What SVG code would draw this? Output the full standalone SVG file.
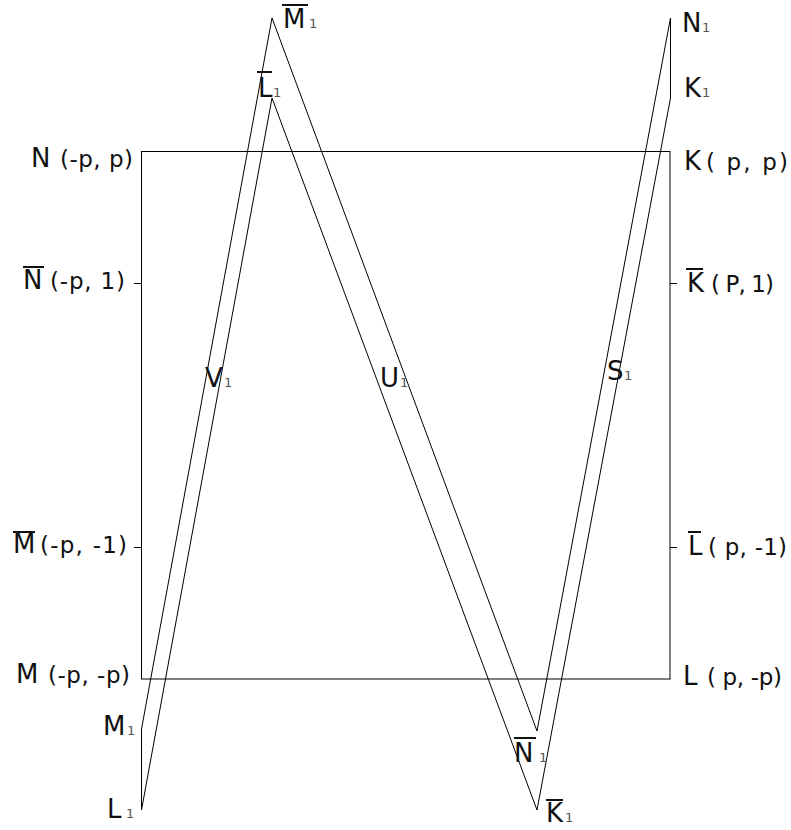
<svg xmlns="http://www.w3.org/2000/svg" width="791" height="830" viewBox="0 0 791 830">
<style>
text{font-family:"DejaVu Sans","Liberation Sans",sans-serif;fill:#111}
.b{font-size:26px}
.s{font-size:23px}
.sub{font-size:13px;fill:#555}
.ln{stroke:#000;stroke-width:1;fill:none}
.ov{stroke:#111;stroke-width:2}
</style>
<rect width="791" height="830" fill="#fff"/>
<g id="connectors">
<rect class="ln" x="141.5" y="151.5" width="528.5" height="527.5"/>
<line class="ln" x1="134" y1="283.5" x2="141.5" y2="283.5"/>
<line class="ln" x1="134" y1="547.5" x2="141.5" y2="547.5"/>
<line class="ln" x1="670" y1="283.5" x2="677" y2="283.5"/>
<line class="ln" x1="670" y1="547.5" x2="677" y2="547.5"/>
<polygon class="ln" points="141.5,729 272,18 537,731 670.5,18 670.5,98 537,810 272,98 141.5,810"/>
</g>
<g id="node-Mbar1"><line class="ov" x1="282" y1="5" x2="308" y2="5"/><text class="b" x="283" y="28">M</text><text class="sub" x="309" y="28">1</text></g>
<g id="node-Lbar1"><line class="ov" x1="257" y1="72" x2="272" y2="72"/><text class="b" x="258" y="97">L</text><text class="sub" x="273" y="97">1</text></g>
<g id="node-N1"><text class="b" x="682" y="32">N</text><text class="sub" x="702" y="32">1</text></g>
<g id="node-K1"><text class="b" x="684" y="97">K</text><text class="sub" x="702" y="97">1</text></g>
<g id="node-K"><text class="b" x="684" y="170">K</text><text class="s" x="706" y="170" textLength="82" lengthAdjust="spacing">( p, p)</text></g>
<g id="node-N"><text class="b" x="31" y="167">N</text><text class="s" x="60" y="167" textLength="73" lengthAdjust="spacing">(-p, p)</text></g>
<g id="node-Nbar"><line class="ov" x1="23" y1="267" x2="44" y2="267"/><text class="b" x="23" y="289">N</text><text class="s" x="50" y="289" textLength="75" lengthAdjust="spacing">(-p, 1)</text></g>
<g id="node-Kbar"><line class="ov" x1="686" y1="269" x2="703" y2="269"/><text class="b" x="687" y="292">K</text><text class="s" x="711" y="292" textLength="63" lengthAdjust="spacing">( P, 1)</text></g>
<g id="node-V1"><text class="b" x="205" y="387">V</text><text class="sub" x="224" y="387">1</text></g>
<g id="node-U1"><text class="b" x="380" y="387">U</text><text class="sub" x="400" y="387">1</text></g>
<g id="node-S1"><text class="b" x="607" y="380">S</text><text class="sub" x="624" y="380">1</text></g>
<g id="node-Mbar"><line class="ov" x1="13" y1="532" x2="35" y2="532"/><text class="b" x="13" y="553">M</text><text class="s" x="40" y="553" textLength="87" lengthAdjust="spacing">(-p, -1)</text></g>
<g id="node-Lbar"><line class="ov" x1="688" y1="532" x2="701" y2="532"/><text class="b" x="688" y="555">L</text><text class="s" x="708" y="555" textLength="79" lengthAdjust="spacing">( p, -1)</text></g>
<g id="node-M"><text class="b" x="16" y="683">M</text><text class="s" x="48" y="683" textLength="82" lengthAdjust="spacing">(-p, -p)</text></g>
<g id="node-L"><text class="b" x="683" y="685">L</text><text class="s" x="707" y="685" textLength="75" lengthAdjust="spacing">( p, -p)</text></g>
<g id="node-M1"><text class="b" x="103" y="735">M</text><text class="sub" x="127" y="735">1</text></g>
<g id="node-Nbar1"><line class="ov" x1="514" y1="738" x2="536" y2="738"/><text class="b" x="514" y="762">N</text><text class="sub" x="539" y="762">1</text></g>
<g id="node-L1"><text class="b" x="107" y="818">L</text><text class="sub" x="126" y="818">1</text></g>
<g id="node-Kbar1"><line class="ov" x1="546" y1="800" x2="563" y2="800"/><text class="b" x="546" y="822">K</text><text class="sub" x="565" y="822">1</text></g>
</svg>
